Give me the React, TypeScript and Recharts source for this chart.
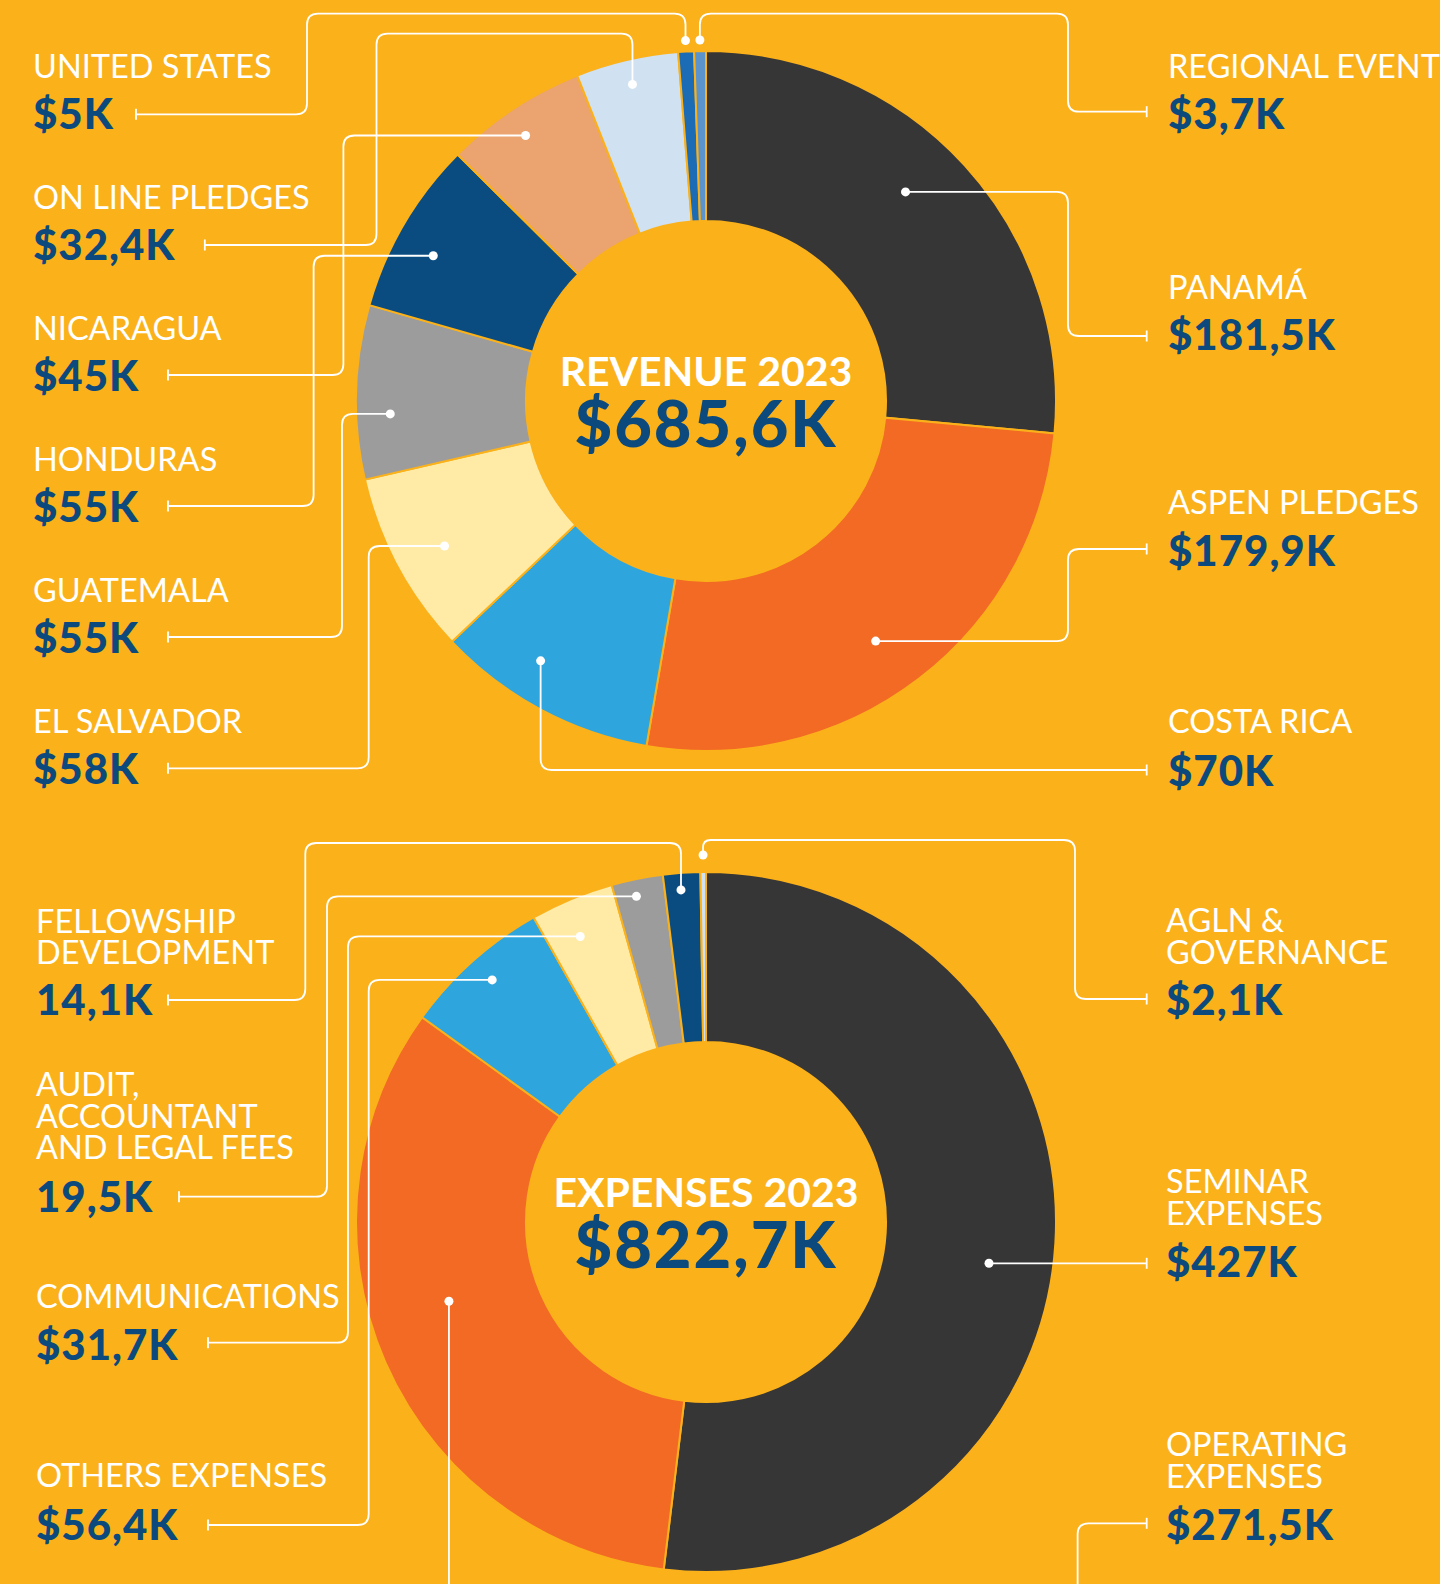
import React from 'react';
import { PieChart, Pie, Cell } from 'recharts';

// ---------- DATA ----------
const revenueNames: string[][] = [
  ['PANAMÁ'], ['ASPEN PLEDGES'], ['COSTA RICA'], ['EL SALVADOR'], ['GUATEMALA'],
  ['HONDURAS'], ['NICARAGUA'], ['ON LINE PLEDGES'], ['UNITED STATES'], ['REGIONAL EVENT'],
];
const revenueValues: number[] = [181.5, 179.9, 70, 58, 55, 55, 45, 32.4, 5, 3.7];
const revenueLabels: string[] = ['$181,5K', '$179,9K', '$70K', '$58K', '$55K', '$55K', '$45K', '$32,4K', '$5K', '$3,7K'];
const revenueTitle = 'REVENUE 2023';
const revenueTotal = '$685,6K';

const expenseNames: string[][] = [
  ['SEMINAR', 'EXPENSES'], ['OPERATING', 'EXPENSES'], ['OTHERS EXPENSES'], ['COMMUNICATIONS'],
  ['AUDIT,', 'ACCOUNTANT', 'AND LEGAL FEES'], ['FELLOWSHIP', 'DEVELOPMENT'], ['AGLN &', 'GOVERNANCE'],
];
const expenseValues: number[] = [427, 271.5, 56.4, 31.7, 19.5, 14.1, 2.1];
const expenseLabels: string[] = ['$427K', '$271,5K', '$56,4K', '$31,7K', '19,5K', '14,1K', '$2,1K'];
const expenseTitle = 'EXPENSES 2023';
const expenseTotal = '$822,7K';

// ---------- STYLE ----------
const BG = '#FBB11A';
const NAVY = '#0C4A7E';
const revenueColors = ['#363636', '#F26A24', '#2EA6DD', '#FFEBA6', '#9C9C9C', '#0B4C80', '#EBA36F', '#D0E1F1', '#1B6BB5', '#5B93CC'];
const expenseColors = ['#363636', '#F26A24', '#2EA6DD', '#FFEBA6', '#9C9C9C', '#0B4C80', '#D0E1F1'];
const FONT = "Lato, 'Open Sans', sans-serif";

type Lay = {
  tx: number; ny: number; vy: number; tickX: number; tickY: number;
  trunk?: number; elbow?: number; dotR: number; dotShift?: number; level?: boolean;
};

// dotShift: clockwise degrees added to the slice's mid angle for the leader dot
const revenueLayout: Lay[] = [
  { tx: 1168, ny: 299.3, vy: 350, tickX: 1146.7, tickY: 336, trunk: 1068, dotR: 289, dotShift: -4 },
  { tx: 1168, ny: 514, vy: 565.5, tickX: 1146.7, tickY: 549, trunk: 1068, dotR: 294, dotShift: 2.2 },
  { tx: 1168, ny: 733.3, vy: 786, tickX: 1146.7, tickY: 770, dotR: 308, dotShift: 4.3 },
  { tx: 33, ny: 733.3, vy: 784, tickX: 168, tickY: 768.3, trunk: 368.7, dotR: 299, dotShift: -0.8 },
  { tx: 33, ny: 602, vy: 653, tickX: 168, tickY: 637, trunk: 342, dotR: 316, dotShift: -3.8 },
  { tx: 33, ny: 471, vy: 522, tickX: 168, tickY: 506, trunk: 313.6, dotR: 309, dotShift: -2.3 },
  { tx: 33, ny: 340, vy: 390.5, tickX: 168, tickY: 375, trunk: 343.4, dotR: 321, dotShift: -0.8 },
  { tx: 33, ny: 209.3, vy: 259.5, tickX: 204.8, tickY: 245, trunk: 376.5, elbow: 33.7, dotR: 325 },
  { tx: 33, ny: 78.3, vy: 129, tickX: 136, tickY: 114.3, trunk: 307, elbow: 13.7, dotR: 361 },
  { tx: 1168, ny: 78.3, vy: 129, tickX: 1146.7, tickY: 111.7, trunk: 1068, elbow: 13.7, dotR: 361 },
];

const expenseLayout: Lay[] = [
  { tx: 1166, ny: 1193.3, vy: 1277, tickX: 1146.7, tickY: 1263.3, level: true, dotR: 286 },
  { tx: 1166, ny: 1456, vy: 1540, tickX: 1146.7, tickY: 1523.3, trunk: 1077.6, elbow: 1620, dotR: 269, dotShift: 6.5 },
  { tx: 36, ny: 1487.3, vy: 1540, tickX: 208, tickY: 1525, trunk: 368.7, dotR: 323, dotShift: 0.4 },
  { tx: 36, ny: 1307.7, vy: 1359.5, tickX: 208, tickY: 1342.7, trunk: 348, dotR: 312, dotShift: -1.2 },
  { tx: 36, ny: 1096, vy: 1211.7, tickX: 179, tickY: 1196.7, trunk: 327, dotR: 333, dotShift: -0.7 },
  { tx: 36, ny: 932.7, vy: 1015, tickX: 168, tickY: 1000, trunk: 305.3, elbow: 843, dotR: 333, dotShift: -0.3 },
  { tx: 1166, ny: 932.3, vy: 1015, tickX: 1146.7, tickY: 999, trunk: 1075, elbow: 840, dotR: 367 },
];

type P = { x: number; y: number };

function roundedPath(raw: P[], r: number): string {
  const pts: P[] = [];
  raw.forEach((p) => {
    const last = pts[pts.length - 1];
    if (!last || Math.hypot(p.x - last.x, p.y - last.y) > 0.01) pts.push(p);
  });
  if (pts.length < 2) return '';
  let d = `M${pts[0].x},${pts[0].y}`;
  for (let i = 1; i < pts.length - 1; i++) {
    const a = pts[i - 1], b = pts[i], c = pts[i + 1];
    const l1 = Math.hypot(b.x - a.x, b.y - a.y);
    const l2 = Math.hypot(c.x - b.x, c.y - b.y);
    const rr = Math.min(r, l1 / 2, l2 / 2);
    const p1 = { x: b.x - ((b.x - a.x) / l1) * rr, y: b.y - ((b.y - a.y) / l1) * rr };
    const p2 = { x: b.x + ((c.x - b.x) / l2) * rr, y: b.y + ((c.y - b.y) / l2) * rr };
    d += ` L${p1.x},${p1.y} Q${b.x},${b.y} ${p2.x},${p2.y}`;
  }
  const e = pts[pts.length - 1];
  d += ` L${e.x},${e.y}`;
  return d;
}

function makeLabel(names: string[][], labels: string[], layout: Lay[], lineH: number, title: string, total: string) {
  return (props: any) => {
    const { cx, cy, midAngle, index } = props;
    const L = layout[index];
    if (!L) return null;
    const rad = (-(midAngle - (L.dotShift || 0)) * Math.PI) / 180;
    let dot: P = { x: cx + L.dotR * Math.cos(rad), y: cy + L.dotR * Math.sin(rad) };
    if (L.level) {
      const dy = L.tickY - cy;
      const dx = Math.sqrt(Math.max(0, L.dotR * L.dotR - dy * dy));
      dot = { x: cx + Math.sign(Math.cos(rad)) * dx, y: L.tickY };
    }
    const pts: P[] = [dot];
    if (L.trunk !== undefined) {
      if (L.elbow !== undefined) {
        pts.push({ x: dot.x, y: L.elbow });
        pts.push({ x: L.trunk, y: L.elbow });
      } else {
        pts.push({ x: L.trunk, y: dot.y });
      }
      pts.push({ x: L.trunk, y: L.tickY });
    } else if (!L.level) {
      pts.push({ x: dot.x, y: L.tickY });
    }
    pts.push({ x: L.tickX, y: L.tickY });
    return (
      <g key={`lab-${index}`}>
        <path d={roundedPath(pts, 11)} fill="none" stroke="#fff" strokeWidth={1.8} />
        <line x1={L.tickX} x2={L.tickX} y1={L.tickY - 5.5} y2={L.tickY + 5.5} stroke="#fff" strokeWidth={1.8} />
        <circle cx={dot.x} cy={dot.y} r={4.5} fill="#fff" />
        {names[index].map((t, i) => (
          <text key={i} x={L.tx} y={L.ny + i * lineH} fill="#fff" fontFamily={FONT} fontWeight={400} fontSize={32.5}>
            {t}
          </text>
        ))}
        <text x={L.tx} y={L.vy} fill={NAVY} fontFamily={FONT} fontWeight={900} fontSize={42} letterSpacing={1}>
          {labels[index]}
        </text>
        {index === 0 && (
          <g>
            <text x={cx} y={cy - 15} textAnchor="middle" fill="#fff" fontFamily={FONT} fontWeight={700} fontSize={41}>
              {title}
            </text>
            <text x={cx} y={cy + 46} textAnchor="middle" fill={NAVY} fontFamily={FONT} fontWeight={900} fontSize={65} letterSpacing={2}>
              {total}
            </text>
          </g>
        )}
      </g>
    );
  };
}

const revenueData = revenueNames.map((n, i) => ({ name: n.join(' '), value: revenueValues[i] }));
const expenseData = expenseNames.map((n, i) => ({ name: n.join(' '), value: expenseValues[i] }));

export default function App() {
  return (
    <div style={{ width: 1440, height: 1584, background: BG, overflow: 'hidden' }}>
      <style>{`html,body{margin:0;padding:0;background:${BG};}`}</style>
      <PieChart width={1440} height={1584} margin={{ top: 0, right: 0, bottom: 0, left: 0 }}>
        <Pie
          data={revenueData}
          dataKey="value"
          nameKey="name"
          cx={706}
          cy={401}
          innerRadius={180}
          outerRadius={350}
          startAngle={90}
          endAngle={-270}
          stroke={BG}
          strokeWidth={2}
          isAnimationActive={false}
          labelLine={false}
          label={makeLabel(revenueNames, revenueLabels, revenueLayout, 31.5, revenueTitle, revenueTotal)}
        >
          {revenueData.map((_, i) => (
            <Cell key={i} fill={revenueColors[i]} />
          ))}
        </Pie>
        <Pie
          data={expenseData}
          dataKey="value"
          nameKey="name"
          cx={706}
          cy={1222}
          innerRadius={180}
          outerRadius={350}
          startAngle={90}
          endAngle={-270}
          stroke={BG}
          strokeWidth={2}
          isAnimationActive={false}
          labelLine={false}
          label={makeLabel(expenseNames, expenseLabels, expenseLayout, 31.5, expenseTitle, expenseTotal)}
        >
          {expenseData.map((_, i) => (
            <Cell key={i} fill={expenseColors[i]} />
          ))}
        </Pie>
      </PieChart>
    </div>
  );
}
